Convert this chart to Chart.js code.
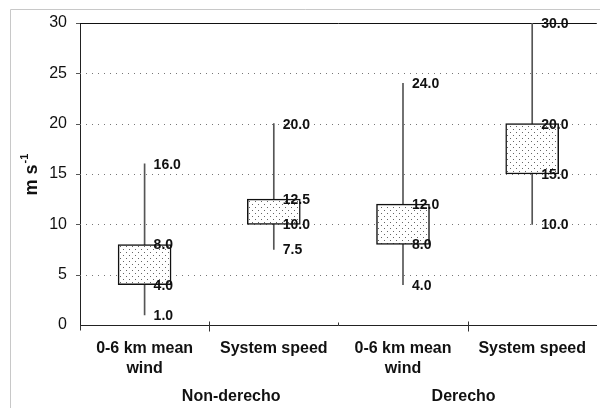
<!DOCTYPE html>
<html>
<head>
<meta charset="utf-8">
<script src="https://cdn.jsdelivr.net/npm/chart.js@4.4.1/dist/chart.umd.min.js"></script>
<style>
  html, body { margin: 0; padding: 0; background: #fff; }
</style>
</head>
<body>
<canvas id="chart" width="600" height="409"></canvas>
<script>
// data
const categories = [['0-6 km mean', 'wind'], 'System speed', ['0-6 km mean', 'wind'], 'System speed'];
const groups = ['Non-derecho', 'Derecho'];
const groupCats = [[0, 1], [2, 3]];
const minVals = [1.0, 7.5, 4.0, 10.0];
const q1Vals = [4.0, 10.0, 8.0, 15.0];
const q3Vals = [8.0, 12.5, 12.0, 20.0];
const maxVals = [16.0, 20.0, 24.0, 30.0];
const yTicks = [0, 5, 10, 15, 20, 25, 30];

const FONT = "'Liberation Sans', Arial, sans-serif";

// stippled fill for the boxes
function dotPattern() {
  const c = document.createElement('canvas');
  c.width = 6; c.height = 6;
  const g = c.getContext('2d');
  g.fillStyle = '#fff';
  g.fillRect(0, 0, 6, 6);
  g.fillStyle = '#666';
  g.fillRect(0, 0, 1, 1);
  g.fillRect(3, 3, 1, 1);
  return g.createPattern(c, 'repeat');
}

const ctx = document.getElementById('chart').getContext('2d');

const decorPlugin = {
  id: 'decor',
  beforeDraw(chart) {
    const c = chart.ctx;
    // light frame of the scanned figure
    c.save();
    c.strokeStyle = '#c8c8c8';
    c.lineWidth = 1;
    c.beginPath();
    c.moveTo(10.5, 408);
    c.lineTo(10.5, 9.5);
    c.lineTo(600, 9.5);
    c.stroke();
    c.restore();
  },
  beforeDatasetsDraw(chart) {
    const c = chart.ctx;
    const y = chart.scales.y;
    const x = chart.scales.x;
    const area = chart.chartArea;
    c.save();
    c.lineWidth = 1;
    yTicks.forEach(v => {
      const py = Math.round(y.getPixelForValue(v)) + 0.5;
      if (v === 30) {
        c.strokeStyle = '#111';
        c.setLineDash([]);
      } else if (v === 0) {
        return;
      } else {
        c.strokeStyle = '#777';
        c.setLineDash([1, 5]);
      }
      c.beginPath();
      c.moveTo(area.left, py);
      c.lineTo(area.right, py);
      c.stroke();
      // small tick left of axis
      c.setLineDash([]);
      c.strokeStyle = '#555';
      c.beginPath();
      c.moveTo(area.left - 4, py);
      c.lineTo(area.left, py);
      c.stroke();
    });
    // axis ticks between categories
    c.strokeStyle = '#333';
    const left = area.left;
    const bottom = Math.round(area.bottom) + 0.5;
    const step = (x.getPixelForValue(1) - x.getPixelForValue(0));
    [[1, 6], [2, -3], [3, 6]].forEach(([i, len]) => {
      const px = Math.round(left + step * i) + 0.5;
      c.beginPath();
      c.moveTo(px, bottom - (len > 0 ? 4 : 0));
      c.lineTo(px, bottom + len);
      c.stroke();
    });
    c.beginPath();
    c.moveTo(Math.round(left) + 0.5, bottom);
    c.lineTo(Math.round(left) + 0.5, bottom + 5);
    c.stroke();
    c.restore();
  },
  afterDatasetsDraw(chart) {
    const c = chart.ctx;
    const x = chart.scales.x;
    const y = chart.scales.y;
    c.save();
    c.font = 'bold 14px ' + FONT;
    c.fillStyle = '#111';
    c.textAlign = 'left';
    c.textBaseline = 'middle';
    categories.forEach((cat, i) => {
      const px = x.getPixelForValue(i) + 9;
      [maxVals[i], q3Vals[i], q1Vals[i], minVals[i]].forEach(v => {
        c.fillText(v.toFixed(1), px, y.getPixelForValue(v) + 1);
      });
    });
    // group labels under the category labels
    c.font = 'bold 16px ' + FONT;
    c.textAlign = 'center';
    const shift = [22, -4];
    groups.forEach((g, k) => {
      const [a, b] = groupCats[k];
      const px = (x.getPixelForValue(a) + x.getPixelForValue(b)) / 2 + shift[k];
      c.fillText(g, px, 397);
    });
    // y axis title with superscript
    c.translate(32, 175);
    c.rotate(-Math.PI / 2);
    c.textAlign = 'left';
    c.font = 'bold 18px ' + FONT;
    const base = 'm s';
    const w = c.measureText(base).width;
    c.font = 'bold 11px ' + FONT;
    const w2 = c.measureText('-1').width;
    const start = -(w + w2) / 2;
    c.font = 'bold 18px ' + FONT;
    c.fillText(base, start, 0);
    c.font = 'bold 11px ' + FONT;
    c.fillText('-1', start + w + 1, -7);
    c.restore();
  }
};

new Chart(ctx, {
  type: 'bar',
  data: {
    labels: categories,
    datasets: [
      {
        label: 'range',
        data: categories.map((_, i) => [minVals[i], maxVals[i]]),
        backgroundColor: '#555',
        borderWidth: 0,
        barThickness: 1,
        grouped: false,
        order: 2
      },
      {
        label: 'box',
        data: categories.map((_, i) => [q1Vals[i], q3Vals[i]]),
        backgroundColor: dotPattern(),
        borderColor: '#111',
        borderWidth: 1.5,
        borderSkipped: false,
        barThickness: 53,
        grouped: false,
        order: 1
      }
    ]
  },
  options: {
    responsive: false,
    animation: false,
    devicePixelRatio: 1,
    layout: { padding: { left: 0, top: 23, right: 0, bottom: 0 } },
    plugins: {
      legend: { display: false },
      tooltip: { enabled: false }
    },
    scales: {
      x: {
        grid: { display: false, drawTicks: false },
        border: { display: true, color: '#222', width: 1 },
        ticks: {
          color: '#111',
          padding: 14,
          maxRotation: 0,
          autoSkip: false,
          font: { family: FONT, size: 16, weight: 'bold', lineHeight: 1.25 }
        },
        afterFit(scale) { scale.height = 84; }
      },
      y: {
        min: 0,
        max: 30,
        ticks: {
          stepSize: 5,
          color: '#111',
          padding: 13,
          font: { family: FONT, size: 16 }
        },
        grid: { display: false, drawTicks: false },
        border: { display: true, color: '#222', width: 1 },
        afterFit(scale) { scale.width = 80; }
      }
    }
  },
  plugins: [decorPlugin]
});
</script>
</body>
</html>
